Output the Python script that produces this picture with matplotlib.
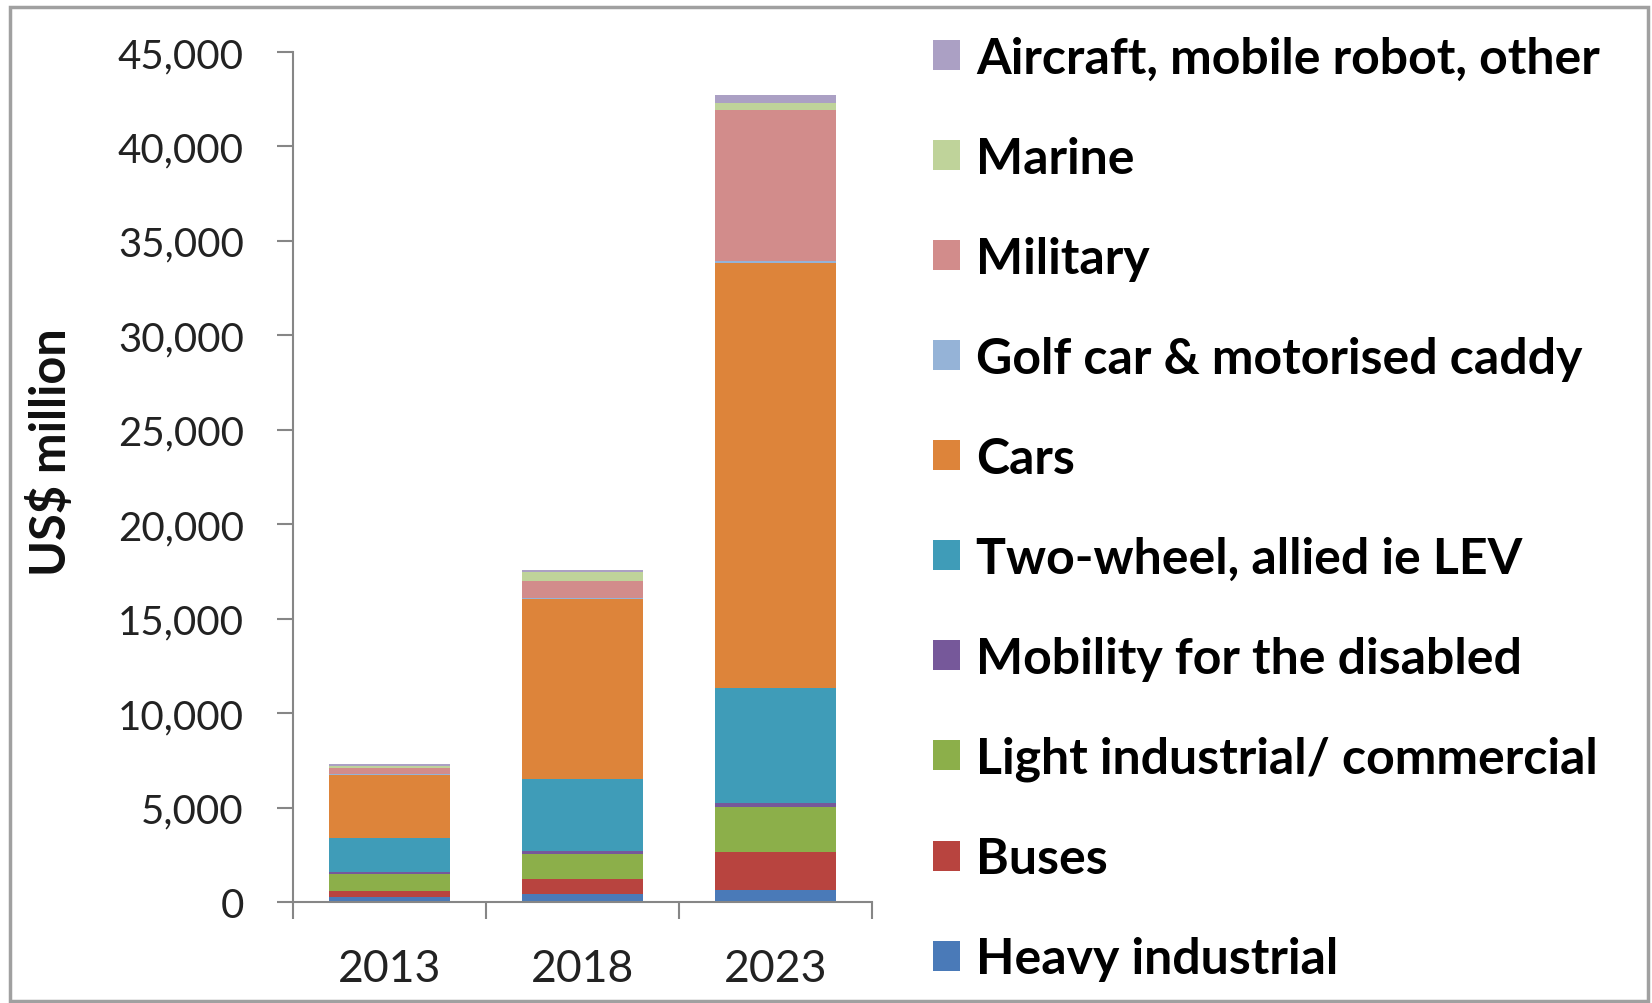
import matplotlib
matplotlib.use('Agg')
import matplotlib.pyplot as plt
import numpy as np
from matplotlib.patches import Rectangle
from matplotlib.ticker import FuncFormatter

# data (US$ million)
years = ['2013', '2018', '2023']
segments = ['Heavy industrial', 'Buses', 'Light industrial/ commercial',
            'Mobility for the disabled', 'Two-wheel, allied ie LEV', 'Cars',
            'Golf car & motorised caddy', 'Military', 'Marine',
            'Aircraft, mobile robot, other']
heavy_industrial = [250, 440, 650]
buses = [350, 800, 2000]
light_industrial = [900, 1320, 2400]
mobility_disabled = [100, 160, 200]
two_wheel = [1800, 3800, 6100]
cars = [3300, 9500, 22500]
golf_car = [50, 100, 100]
military = [350, 880, 8000]
marine = [100, 450, 350]
aircraft_other = [100, 150, 400]

values = [heavy_industrial, buses, light_industrial, mobility_disabled, two_wheel,
          cars, golf_car, military, marine, aircraft_other]
colors = ['#4A7AB8', '#B8443F', '#8CAF4A', '#76589A', '#3F9CB8', '#DD843A',
          '#95B3D7', '#D28C8B', '#BFD39A', '#ABA0C4']

plt.rcParams['font.family'] = ['Lato', 'DejaVu Sans']

fig = plt.figure(figsize=(16.52, 10.04), dpi=100)
ax = fig.add_axes([0.1774, 0.1006, 0.3504, 0.8466])

x = np.arange(len(years))
bottom = np.zeros(len(years))
handles = []
for name, vals, c in zip(segments, values, colors):
    b = ax.bar(x, vals, width=0.63, bottom=bottom, color=c, label=name,
               edgecolor='none')
    handles.append(b)
    bottom += np.array(vals)

ax.set_xlim(-0.5, 2.5)
ax.set_ylim(0, 45000)
ax.set_yticks(range(0, 45001, 5000))
ax.yaxis.set_major_formatter(FuncFormatter(lambda v, p: f'{int(v):,}'))
ax.tick_params(axis='y', labelsize=29, length=11.5, width=1.5, color='#868686',
               pad=24, labelcolor='#222222')

ax.set_xticks(x)
ax.set_xticklabels(years)
ax.set_xticks([-0.5, 0.5, 1.5, 2.5], minor=True)
ax.tick_params(axis='x', which='major', length=0, labelsize=32, pad=33,
               labelcolor='#222222')
ax.tick_params(axis='x', which='minor', length=12, width=1.5, color='#868686')

for s in ['top', 'right']:
    ax.spines[s].set_visible(False)
for s in ['left', 'bottom']:
    ax.spines[s].set_color('#868686')
    ax.spines[s].set_linewidth(1.5)

fig.text(50 / 1652, 1 - 452 / 1004, 'US$ million', rotation=90, fontsize=35,
         fontweight='bold', ha='center', va='center', color='#111111')

leg = fig.legend(handles[::-1], segments[::-1], loc='upper left',
                 bbox_to_anchor=(933 / 1652, 1 - 37 / 1004), frameon=False,
                 prop={'weight': 'bold', 'size': 36},
                 handlelength=0.54, handleheight=0.54, handletextpad=0.33,
                 labelspacing=1.10, borderpad=0, borderaxespad=0)

# outer frame of the chart area
fig.patches.append(Rectangle((10 / 1652, 2 / 1004), 1638 / 1652, 994 / 1004,
                             transform=fig.transFigure, fill=False,
                             edgecolor='#A0A0A0', linewidth=2.5))

fig.savefig('out.png', dpi=100)
